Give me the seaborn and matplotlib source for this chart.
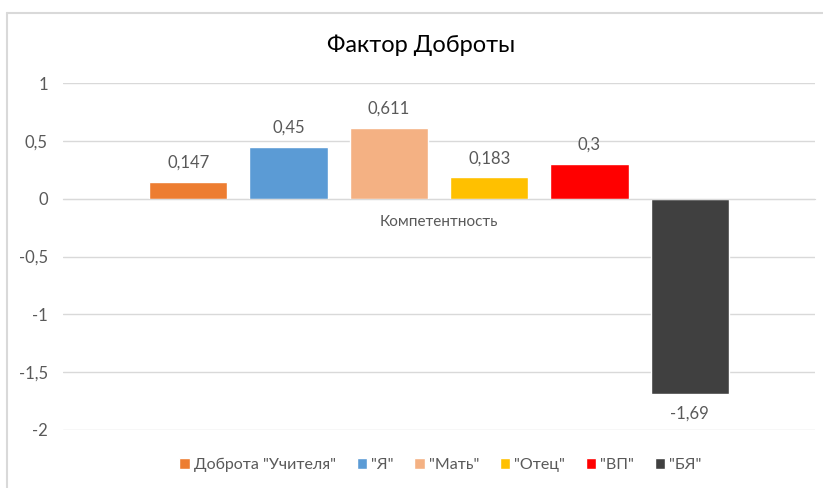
import matplotlib
matplotlib.use("Agg")
from matplotlib import pyplot as plt
from matplotlib.lines import Line2D
from matplotlib.ticker import FuncFormatter, MultipleLocator
import pandas as pd
import seaborn as sns

# chart data
category = "Компетентность"
series = ['Доброта "Учителя"', '"Я"', '"Мать"', '"Отец"', '"ВП"', '"БЯ"']
values = [0.147, 0.45, 0.611, 0.183, 0.3, -1.69]
colors = ['#ED7D31', '#5B9BD5', '#F4B183', '#FFC000', '#FF0000', '#404040']

df = pd.DataFrame({'cat': [category] * len(series), 'series': series, 'value': values})

sns.set_style('white')
plt.rcParams['font.family'] = ['Lato', 'DejaVu Sans']
text_col = '#595959'
grid_col = '#D9D9D9'

fig = plt.figure(figsize=(8.23, 4.88), dpi=100)
ax = fig.add_axes([63 / 823, 1 - 430 / 488, 752 / 823, 347 / 488])

sns.barplot(data=df, x='cat', y='value', hue='series', palette=colors,
            width=0.8, gap=0.22, ax=ax, saturation=1)

ax.set_xlim(-0.5, 0.5)
ax.set_ylim(-2, 1)
ax.yaxis.set_major_locator(MultipleLocator(0.5))
ax.yaxis.set_major_formatter(FuncFormatter(lambda v, p: f"{v:g}".replace('.', ',')))
ax.grid(axis='y', color=grid_col, linewidth=1)
ax.set_axisbelow(True)
for s in ['top', 'right', 'left']:
    ax.spines[s].set_visible(False)
ax.spines['bottom'].set_position(('data', 0))
ax.spines['bottom'].set_color(grid_col)
ax.tick_params(axis='both', length=0, colors=text_col)
ax.tick_params(axis='y', labelsize=12, pad=11)
ax.tick_params(axis='x', labelsize=11, pad=12)
ax.set_xlabel('')
ax.set_ylabel('')

for cont in ax.containers:
    ax.bar_label(cont, fmt=lambda v: f"{v:g}".replace('.', ','), padding=8,
                 color=text_col, fontsize=12)

fig.text(421 / 823, 1 - 45 / 488, 'Фактор Доброты', fontsize=17, color='#000000',
         ha='center', va='center')

ax.legend(loc='center', bbox_to_anchor=(0.502, -0.1), ncol=6, frameon=False,
          handlelength=0.65, handleheight=0.65, handletextpad=0.25, columnspacing=1.3,
          fontsize=11.5, labelcolor=text_col)

# chart area border (only left and top visible in the crop)
bx, by = 7.5 / 823, 1 - 12.5 / 488
fig.add_artist(Line2D([bx, bx], [0, by], transform=fig.transFigure, color=grid_col, lw=1.5))
fig.add_artist(Line2D([bx, 1], [by, by], transform=fig.transFigure, color=grid_col, lw=1.5))

fig.savefig('out.png', dpi=100)
